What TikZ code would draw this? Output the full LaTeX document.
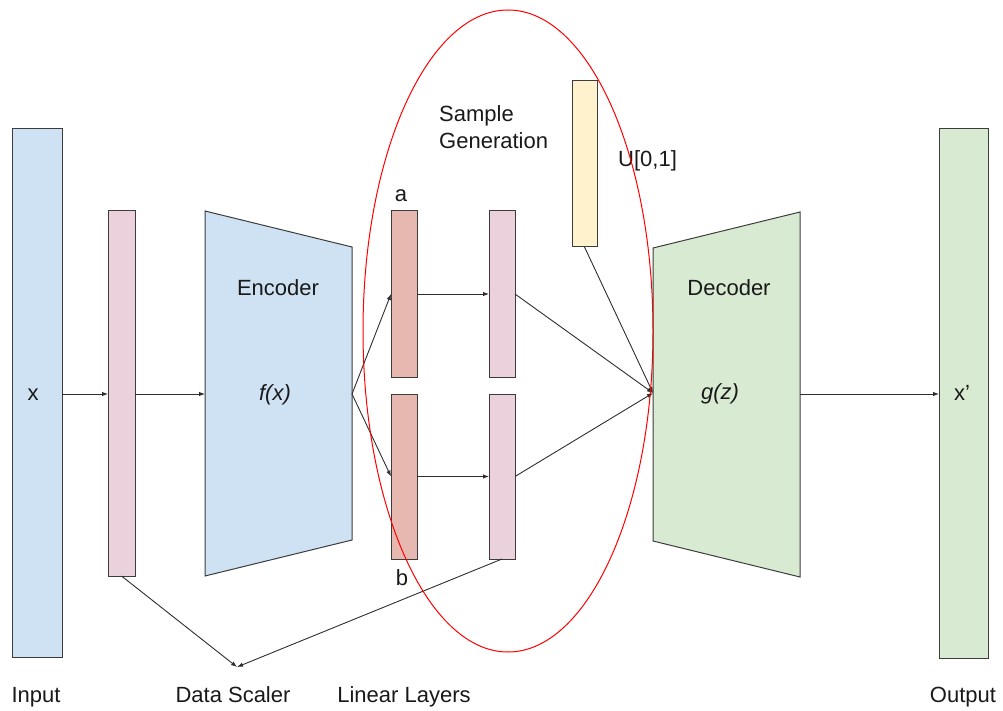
\documentclass[tikz,border=0pt]{standalone}
\usepackage{fontspec}
\setmainfont{Liberation Sans}
\usetikzlibrary{arrows.meta}

\definecolor{inblue}{HTML}{CFE2F3}
\definecolor{scpink}{HTML}{EAD1DC}
\definecolor{abred}{HTML}{E6B8AF}
\definecolor{unifyel}{HTML}{FFF2CC}
\definecolor{outgreen}{HTML}{D9EAD3}
\definecolor{edge}{HTML}{3C3C3C}
\definecolor{wire}{HTML}{2E2E2E}

\tikzset{
  layer/.style={draw=edge, line width=1pt, inner sep=0pt, outer sep=0pt},
  lbl/.style={inner sep=0pt, anchor=base, font=\fontsize{22}{26}\selectfont, text=black!90},
  flow/.style={draw=wire, line width=0.9pt, -{Latex[length=6pt,width=4.5pt]}},
  link/.style={draw=wire, line width=0.9pt},
}

\begin{document}
\begin{tikzpicture}[x=1pt, y=-1pt]
\useasboundingbox (0,0) rectangle (1003,711);

% input and output columns
\node[layer, fill=inblue, minimum width=50pt, minimum height=528pt] (in) at (37,393) {};
\node[layer, fill=outgreen, minimum width=49pt, minimum height=529pt] (out) at (963.5,393.5) {};

% data scaler layer
\node[layer, fill=scpink, minimum width=27pt, minimum height=365pt] (sc) at (121.5,393.5) {};

% encoder and decoder trapezoids
\draw[layer, fill=inblue] (205,211) -- (352,247) -- (352,540) -- (205,576) -- cycle;
\draw[layer, fill=outgreen] (653,248) -- (800,212) -- (800,577) -- (653,541) -- cycle;
\coordinate (encin) at (205,394);
\coordinate (encout) at (352,394);
\coordinate (decin) at (653,393);
\coordinate (decout) at (800,394);

% linear layers a, b and their scaled copies
\node[layer, fill=abred, minimum width=26pt, minimum height=166pt] (a) at (404,294) {};
\node[layer, fill=abred, minimum width=26pt, minimum height=165pt] (b) at (404,476.5) {};
\node[layer, fill=scpink, minimum width=26pt, minimum height=166pt] (pa) at (502,294) {};
\node[layer, fill=scpink, minimum width=26pt, minimum height=165pt] (pb) at (502,476.5) {};

% uniform noise
\node[layer, fill=unifyel, minimum width=25pt, minimum height=166pt] (u) at (584.5,164) {};

% data scaler target point
\coordinate (ds) at (237,667);

% labels
\node[lbl] (tx) at (33,400) {x};
\node[lbl] (tenc) at (278,295) {Encoder};
\node[lbl] (tf) at (275,400) {\itshape f(x)};
\node[lbl] (tdec) at (729,295) {Decoder};
\node[lbl] (tg) at (720,399) {\itshape g(z)};
\node[lbl] (txp) at (962,400) {x’};
\node[lbl, anchor=base west] (ts1) at (439,122) {Sample};
\node[lbl, anchor=base west] (ts2) at (439,149) {Generation};
\node[lbl, anchor=base west] (tu) at (618,167) {U[0,1]};
\node[lbl] (ta) at (401,202) {a};
\node[lbl] (tb) at (402,585) {b};
\node[lbl] (tin) at (36,702) {Input};
\node[lbl] (tds) at (233,702) {Data Scaler};
\node[lbl] (tll) at (404,702) {Linear Layers};
\node[lbl] (tout) at (963,702) {Output};

% connections
\draw[flow] (in.east |- encin) -- (sc.west |- encin);
\draw[flow] (sc.east |- encin) -- (encin);
\draw[flow] (encout) -- (a.west);
\draw[flow] (encout) -- (b.west);
\draw[flow] (a.east) -- (pa.west);
\draw[flow] (b.east) -- (pb.west);
\draw[flow] (pa.east) -- (decin);
\draw[flow] (pb.east) -- (decin);
\draw[flow] (u.south) -- (decin);
\draw[flow] (decout) -- (out.west |- decout);
\draw[flow] (sc.south) -- (ds);
\draw[flow] (pb.south) -- (ds);

% sample generation region
\draw[red, line width=1pt] (508,331) ellipse [x radius=145pt, y radius=321pt];

\end{tikzpicture}
\end{document}
